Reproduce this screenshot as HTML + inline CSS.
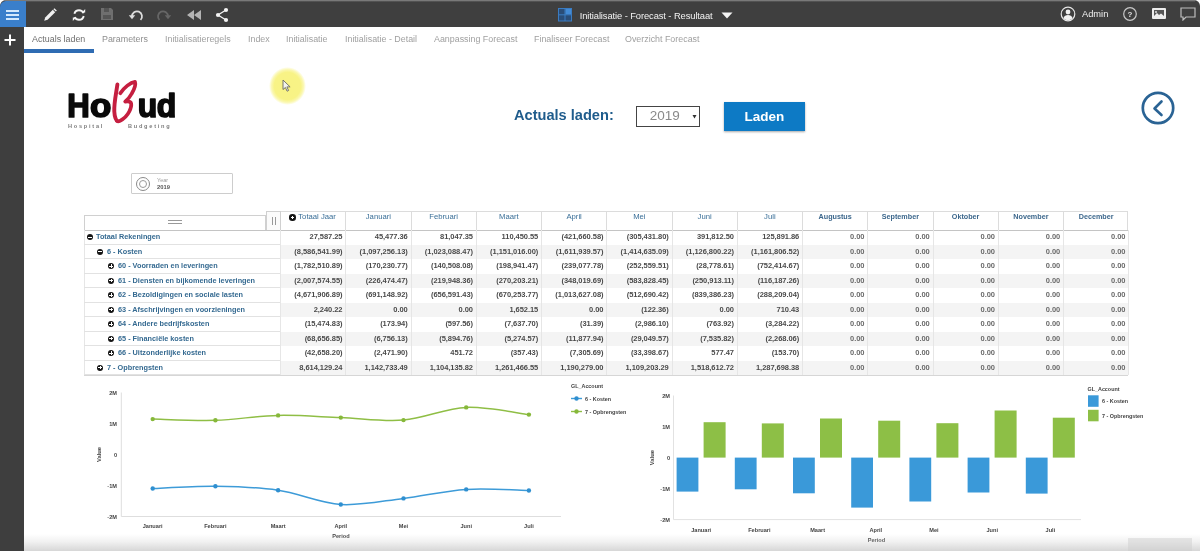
<!DOCTYPE html>
<html>
<head>
<meta charset="utf-8">
<style>
*{box-sizing:border-box;margin:0;padding:0}
html,body{width:1200px;height:551px;overflow:hidden;background:#fff;font-family:"Liberation Sans",sans-serif;}
#root{position:relative;width:1200px;height:551px;overflow:hidden;background:#fff;filter:blur(0.6px);}
.abs{position:absolute}
#topbar{left:0;top:0;width:1200px;height:27px;background:#3f3f3f;border-top-right-radius:6px;border-top-left-radius:6px;}
#topline{left:5px;top:0;width:1190px;height:2px;background:linear-gradient(#8c8c8c,#3f3f3f);}
#side{left:0;top:27px;width:24px;height:524px;background:#3e3e3e;}
#burger{left:0;top:0.7px;width:26.3px;height:26.3px;background:#3a7fcb;border-top-left-radius:6px;}
#burger i{position:absolute;left:6px;width:13px;height:2.3px;background:#d4e9fc;}
.tab{position:absolute;top:34px;font-size:8.9px;color:#8e8e8e;white-space:nowrap;line-height:10px;}
#tabline{left:24px;top:49.400px;width:70px;height:4px;background:#2f6cb3;}
.ico{position:absolute}
#title{left:579.700px;top:9.500px;font-size:9.400px;color:#f2f2f2;white-space:nowrap;line-height:12px;letter-spacing:-0.1px}
#admin{left:1082px;top:8px;font-size:9.3px;color:#f0f0f0;line-height:12px;}
</style>
</head>
<body>
<div id="root">
<!-- TOPBAR -->
<div id="topbar" class="abs"></div>
<div id="topline" class="abs"></div>
<div id="side" class="abs"></div>
<div id="burger" class="abs"><i style="top:9px"></i><i style="top:13.200px"></i><i style="top:17.300px"></i></div>
<svg class="abs" style="left:4.400px;top:33.700px" width="12" height="12" viewBox="0 0 12 12"><path d="M6 0.500v11M0.500 6h11" stroke="#fff" stroke-width="2"/></svg>

<!-- toolbar icons -->
<svg class="abs" style="left:42px;top:7px" width="16" height="16" viewBox="0 0 16 16"><path d="M2.2 13.8l1-3.4 7.6-7.6 2.4 2.4-7.6 7.6z" fill="#f0f0f0"/><path d="M11.4 2.2l1-1 2.4 2.4-1 1z" fill="#f0f0f0"/></svg>
<svg class="abs" style="left:70.700px;top:7px" width="16" height="16" viewBox="0 0 16 16"><circle cx="8" cy="8" r="4.800" fill="none" stroke="#f4f4f4" stroke-width="1.900" stroke-dasharray="11.500 3.580" stroke-dashoffset="-1"/><path d="M10.800 5.400l3.400 0 0-3.400z" fill="#f4f4f4"/><path d="M5.200 10.600l-3.400 0 0 3.400z" fill="#f4f4f4"/></svg>
<svg class="abs" style="left:100px;top:7.300px" width="14" height="14" viewBox="0 0 14 14"><path d="M1 1h10l2 2v10H1z" fill="#6f6f6f"/><rect x="4" y="1" width="5" height="4" fill="#555"/><rect x="3" y="8" width="8" height="4" fill="#555"/></svg>
<svg class="abs" style="left:128px;top:7px" width="16" height="16" viewBox="0 0 16 16"><path d="M4 9.5a5 5 0 1 1 8.5 3.4" fill="none" stroke="#dcdcdc" stroke-width="1.8"/><path d="M0.8 8.2h6.4l-3.2 4z" fill="#dcdcdc"/></svg>
<svg class="abs" style="left:156px;top:7px" width="16" height="16" viewBox="0 0 16 16"><path d="M12 9.5a5 5 0 1 0 -8.5 3.4" fill="none" stroke="#666" stroke-width="1.8"/><path d="M15.2 8.2h-6.4l3.2 4z" fill="#666"/></svg>
<svg class="abs" style="left:186px;top:9px" width="16" height="12" viewBox="0 0 16 12"><path d="M8 1v10L1 6zM15 1v10L8 6z" fill="#b4b4b4"/></svg>
<svg class="abs" style="left:214px;top:7px" width="16" height="16" viewBox="0 0 16 16"><path d="M12 3L4 8l8 5" fill="none" stroke="#f4f4f4" stroke-width="1.3"/><circle cx="12" cy="3" r="2.1" fill="#f4f4f4"/><circle cx="4" cy="8" r="2.1" fill="#f4f4f4"/><circle cx="12" cy="13" r="2.1" fill="#f4f4f4"/></svg>

<!-- title -->
<svg class="abs" style="left:558px;top:8px" width="14" height="14" viewBox="0 0 14 14"><rect x="0.500" y="0.500" width="13" height="12.500" fill="#2a4d78" stroke="#3a7cc2" stroke-width="1"/><path d="M7 0.500v12.500M0.500 6.800h13" stroke="#3a7cc2" stroke-width="1"/><rect x="7.500" y="1" width="5.500" height="5.300" fill="#438bd6"/></svg>
<div id="title" class="abs">Initialisatie - Forecast - Resultaat</div>
<svg class="abs" style="left:721px;top:12px" width="12" height="7" viewBox="0 0 12 7"><path d="M0.5 0.5h11L6 6.5z" fill="#f4f4f4"/></svg>

<!-- right icons -->
<svg class="abs" style="left:1060px;top:6px" width="16" height="16" viewBox="0 0 16 16"><circle cx="8" cy="8" r="6.8" fill="#3e3e3e" stroke="#e6e6e6" stroke-width="1.2"/><circle cx="8" cy="6" r="2.4" fill="#f0f0f0"/><path d="M3.4 12.3c0.6-2.6 2.6-3.3 4.6-3.3s4 0.7 4.6 3.3a6.6 6.6 0 0 1-9.2 0z" fill="#f0f0f0"/></svg>
<div id="admin" class="abs">Admin</div>
<svg class="abs" style="left:1122px;top:6px" width="16" height="16" viewBox="0 0 16 16"><circle cx="8" cy="8" r="6.3" fill="none" stroke="#c8c8c8" stroke-width="1.2"/><text x="8" y="11" font-size="8" font-weight="bold" fill="#e0e0e0" text-anchor="middle" font-family="Liberation Sans">?</text></svg>
<svg class="abs" style="left:1152px;top:8px" width="14" height="11" viewBox="0 0 14 11"><rect x="0" y="0" width="14" height="11" rx="1" fill="#ececec"/><rect x="2" y="2" width="10" height="6" fill="#555"/><path d="M2 8l3-3 2 2 2-1.5 3 2.500z" fill="#ececec"/><circle cx="4" cy="4" r="0.9" fill="#ececec"/></svg>
<svg class="abs" style="left:1180px;top:7px" width="16" height="14" viewBox="0 0 16 14"><path d="M1 1h14v9H6l-3 3v-3H1z" fill="none" stroke="#bdbdbd" stroke-width="1.2"/></svg>

<!-- TABS -->
<div class="tab" style="left:32px;color:#6e6e6e">Actuals laden</div>
<div class="tab" style="left:102px">Parameters</div>
<div class="tab" style="left:165px;color:#a0a0a0">Initialisatieregels</div>
<div class="tab" style="left:248px;color:#a0a0a0">Index</div>
<div class="tab" style="left:286px;color:#a0a0a0">Initialisatie</div>
<div class="tab" style="left:345px;color:#a0a0a0">Initialisatie - Detail</div>
<div class="tab" style="left:434px;color:#a0a0a0">Aanpassing Forecast</div>
<div class="tab" style="left:534px;color:#a0a0a0">Finaliseer Forecast</div>
<div class="tab" style="left:625px;color:#a0a0a0">Overzicht Forecast</div>
<div id="tabline" class="abs"></div>


<!-- LOGO -->
<svg class="abs" style="left:60px;top:70px" width="130" height="70" viewBox="60 70 130 70" font-family="Liberation Sans, sans-serif" font-weight="bold">
<g fill="#0a0a0a" stroke="#0a0a0a" stroke-width="1.7" stroke-linejoin="round" font-size="33.5">
<text transform="translate(67.37,116.7) scale(0.929,1)">H</text>
<text transform="translate(89.99,116.7) scale(1.042,1)">o</text>
<text transform="translate(137.67,116.7) scale(0.952,1)">u</text>
<text transform="translate(156.74,116.7) scale(0.954,1)">d</text>
</g>
<g transform="translate(105,75)" fill="none" stroke="#c51f40" stroke-linecap="round" stroke-linejoin="round">
<path d="M12.400 9.500C11.200 18 8.900 28 9.300 36.500C9.600 42 11 45.500 12.600 46" stroke-width="3.900"/>
<path d="M15.300 18.300C19 12.500 25.500 7.500 30 6.800C31 9.500 28.800 15 26.800 18.500C24.800 22.300 22.300 24.800 20.200 26.600C23 26.200 25.800 26.800 26.200 28.700C26.600 31 25.500 34 24.300 36.500C22.300 40.500 19 43.800 15 45.800C13.600 46.500 12.800 46.500 12 46" stroke-width="3.700"/>
</g>
<g font-size="5.600" fill="#7d7d7d" letter-spacing="1.750">
<text x="68" y="128">Hospital</text>
<text x="128" y="128">Budgeting</text>
</g>
</svg>

<!-- cursor highlight -->
<div class="abs" style="left:269px;top:66.500px;width:37px;height:38px;border-radius:50%;background:radial-gradient(closest-side,#f8f384 0%,#f8f386 72%,rgba(249,245,150,0.75) 86%,rgba(252,250,200,0) 100%)"></div>
<svg class="abs" style="left:282px;top:79px" width="10" height="14" viewBox="0 0 10 14"><path d="M1 1v9.500l2.400-2 1.700 3.700 1.500-0.700-1.700-3.600h3.200z" fill="#f4f4ee" stroke="#6a6a60" stroke-width="0.900"/></svg>

<!-- Actuals laden -->
<div class="abs" style="left:514px;top:106px;font-size:14.6px;font-weight:bold;color:#1f5c8c;line-height:18px;white-space:nowrap">Actuals laden:</div>
<div class="abs" style="left:635.500px;top:105.500px;width:64.500px;height:21px;border:1.400px solid #444;background:#fff"></div>
<div class="abs" style="left:649.700px;top:108px;font-size:13.500px;color:#8a8a8a;line-height:16px">2019</div>
<svg class="abs" style="left:692px;top:114px" width="5" height="5" viewBox="0 0 5 5"><path d="M0.500 1h4L2.500 4.500z" fill="#333"/></svg>
<div class="abs" style="left:724px;top:102px;width:81px;height:29px;background:#0d7ac5;box-shadow:0 1px 2px rgba(0,0,0,0.35);color:#fff;font-size:13.5px;font-weight:bold;text-align:center;line-height:29px">Laden</div>

<!-- back circle -->
<svg class="abs" style="left:1140px;top:90.300px" width="36" height="36" viewBox="0 0 36 36"><circle cx="18" cy="18" r="15.200" fill="#fff" stroke="#2a6394" stroke-width="2.700"/><path d="M21.500 11.500L14.500 18.500l7 6.500" fill="none" stroke="#2a6394" stroke-width="2.600" stroke-linecap="round" stroke-linejoin="round"/></svg>

<!-- Year box -->
<div class="abs" style="left:130.700px;top:173.300px;width:102px;height:20.500px;border:1px solid #cdcdcd;background:#fff;border-radius:1px"></div>
<svg class="abs" style="left:135px;top:176px" width="16" height="16" viewBox="0 0 16 16"><circle cx="8" cy="8" r="6.500" fill="none" stroke="#8a8a8a" stroke-width="1"/><circle cx="8" cy="8" r="3.500" fill="none" stroke="#9a9a9a" stroke-width="1"/></svg>
<div class="abs" style="left:157px;top:177px;font-size:5.5px;color:#999;line-height:7px">Year</div>
<div class="abs" style="left:157px;top:184px;font-size:5.8px;color:#555;font-weight:bold;line-height:7px">2019</div>

<style>
.tb{position:absolute;border:1px solid #d6d6d6}
.ch{position:absolute;top:211px;height:19px;font-size:7.7px;font-weight:normal;color:#3a6f98;text-align:center;line-height:10px;padding-top:1px;border-left:1px solid #dcdcdc;white-space:nowrap}
.rh{position:absolute;left:84px;width:196px;height:14.5px;border-bottom:1px solid #e2e2e2;font-size:7.3px;font-weight:bold;color:#356a91;line-height:13.5px;white-space:nowrap}
.rh i{position:absolute;top:4px;width:6.4px;height:6.4px;border-radius:50%;background:#151515}
.rh i:before{content:"";position:absolute;left:1.4px;top:2.6px;width:3.6px;height:1.2px;background:#fff}
.rh i.plus:after{content:"";position:absolute;left:2.6px;top:1.4px;width:1.2px;height:3.6px;background:#fff}
.c{position:absolute;height:14.5px;font-size:7.5px;font-weight:bold;color:#4a4a4a;text-align:right;line-height:13.5px;padding-right:2.8px;white-space:nowrap;letter-spacing:-0.05px}
.vl{position:absolute;top:230px;width:1px;height:145px;background:#e6e6e6}
</style>
<div class="abs" style="left:280px;top:211px;width:848px;height:19px;background:#fff;border-top:1px solid #dcdcdc;border-right:1px solid #dcdcdc"></div>
<div class="abs" style="left:280px;top:244.5px;width:848px;height:14.5px;background:#f4f4f4"></div>
<div class="abs" style="left:280px;top:273.5px;width:848px;height:14.5px;background:#f4f4f4"></div>
<div class="abs" style="left:280px;top:302.5px;width:848px;height:14.5px;background:#f4f4f4"></div>
<div class="abs" style="left:280px;top:331.5px;width:848px;height:14.5px;background:#f4f4f4"></div>
<div class="abs" style="left:280px;top:360.5px;width:848px;height:14.5px;background:#f4f4f4"></div>
<div class="abs" style="left:84px;top:215px;width:182px;height:16px;border:1px solid #d0d0d0;background:#fff"></div>
<div class="abs" style="left:266px;top:211px;width:15px;height:20px;border:1px solid #d0d0d0;background:#fbfbfb"></div>
<div class="abs" style="left:168px;top:220px;width:14px;height:1.2px;background:#999"></div><div class="abs" style="left:168px;top:223px;width:14px;height:1.2px;background:#999"></div>
<div class="abs" style="left:271.500px;top:217px;width:1px;height:8px;background:#999"></div><div class="abs" style="left:274.500px;top:217px;width:1px;height:8px;background:#999"></div>
<div class="abs" style="left:84px;top:230px;width:1044px;height:1.3px;background:#c4c4c4"></div>
<div class="ch" style="left:280.00px;width:65.25px;border-left:none"><span style="display:inline-block;width:6.4px;height:6.4px;border-radius:50%;background:#151515;position:relative;top:1.5px;margin-right:2.5px"><b style="position:absolute;left:1.4px;top:2.6px;width:3.6px;height:1.2px;background:#fff"></b><b style="position:absolute;left:2.6px;top:1.4px;width:1.2px;height:3.6px;background:#fff"></b></span>Totaal Jaar</div>
<div class="ch" style="left:345.25px;width:65.25px">Januari</div>
<div class="ch" style="left:410.50px;width:65.25px">Februari</div>
<div class="ch" style="left:475.75px;width:65.25px">Maart</div>
<div class="ch" style="left:541.00px;width:65.25px">April</div>
<div class="ch" style="left:606.25px;width:65.25px">Mei</div>
<div class="ch" style="left:671.50px;width:65.25px">Juni</div>
<div class="ch" style="left:736.75px;width:65.25px">Juli</div>
<div class="ch" style="left:802.00px;width:65.25px;font-weight:bold;font-size:7.200px;color:#3c678c">Augustus</div>
<div class="ch" style="left:867.25px;width:65.25px;font-weight:bold;font-size:7.200px;color:#3c678c">September</div>
<div class="ch" style="left:932.50px;width:65.25px;font-weight:bold;font-size:7.200px;color:#3c678c">Oktober</div>
<div class="ch" style="left:997.75px;width:65.25px;font-weight:bold;font-size:7.200px;color:#3c678c">November</div>
<div class="ch" style="left:1063.00px;width:65.25px;font-weight:bold;font-size:7.200px;color:#3c678c">December</div>
<div class="vl" style="left:280.00px"></div>
<div class="vl" style="left:345.25px"></div>
<div class="vl" style="left:410.50px"></div>
<div class="vl" style="left:475.75px"></div>
<div class="vl" style="left:541.00px"></div>
<div class="vl" style="left:606.25px"></div>
<div class="vl" style="left:671.50px"></div>
<div class="vl" style="left:736.75px"></div>
<div class="vl" style="left:802.00px"></div>
<div class="vl" style="left:867.25px"></div>
<div class="vl" style="left:932.50px"></div>
<div class="vl" style="left:997.75px"></div>
<div class="vl" style="left:1063.00px"></div>
<div class="vl" style="left:1128.25px"></div>
<div class="vl" style="left:84px"></div>
<div class="rh" style="top:230.0px"><i class="minus" style="left:3px"></i><span style="position:absolute;left:12px">Totaal Rekeningen</span></div>
<div class="c" style="left:280.00px;top:230.0px;width:65.25px">27,587.25</div>
<div class="c" style="left:345.25px;top:230.0px;width:65.25px">45,477.36</div>
<div class="c" style="left:410.50px;top:230.0px;width:65.25px">81,047.35</div>
<div class="c" style="left:475.75px;top:230.0px;width:65.25px">110,450.55</div>
<div class="c" style="left:541.00px;top:230.0px;width:65.25px">(421,660.58)</div>
<div class="c" style="left:606.25px;top:230.0px;width:65.25px">(305,431.80)</div>
<div class="c" style="left:671.50px;top:230.0px;width:65.25px">391,812.50</div>
<div class="c" style="left:736.75px;top:230.0px;width:65.25px">125,891.86</div>
<div class="c" style="left:802.00px;top:230.0px;width:65.25px;color:#6a6a6a">0.00</div>
<div class="c" style="left:867.25px;top:230.0px;width:65.25px;color:#6a6a6a">0.00</div>
<div class="c" style="left:932.50px;top:230.0px;width:65.25px;color:#6a6a6a">0.00</div>
<div class="c" style="left:997.75px;top:230.0px;width:65.25px;color:#6a6a6a">0.00</div>
<div class="c" style="left:1063.00px;top:230.0px;width:65.25px;color:#6a6a6a">0.00</div>
<div class="rh" style="top:244.5px"><i class="minus" style="left:13px"></i><span style="position:absolute;left:23px">6 - Kosten</span></div>
<div class="c" style="left:280.00px;top:244.5px;width:65.25px">(8,586,541.99)</div>
<div class="c" style="left:345.25px;top:244.5px;width:65.25px">(1,097,256.13)</div>
<div class="c" style="left:410.50px;top:244.5px;width:65.25px">(1,023,088.47)</div>
<div class="c" style="left:475.75px;top:244.5px;width:65.25px">(1,151,016.00)</div>
<div class="c" style="left:541.00px;top:244.5px;width:65.25px">(1,611,939.57)</div>
<div class="c" style="left:606.25px;top:244.5px;width:65.25px">(1,414,635.09)</div>
<div class="c" style="left:671.50px;top:244.5px;width:65.25px">(1,126,800.22)</div>
<div class="c" style="left:736.75px;top:244.5px;width:65.25px">(1,161,806.52)</div>
<div class="c" style="left:802.00px;top:244.5px;width:65.25px;color:#6a6a6a">0.00</div>
<div class="c" style="left:867.25px;top:244.5px;width:65.25px;color:#6a6a6a">0.00</div>
<div class="c" style="left:932.50px;top:244.5px;width:65.25px;color:#6a6a6a">0.00</div>
<div class="c" style="left:997.75px;top:244.5px;width:65.25px;color:#6a6a6a">0.00</div>
<div class="c" style="left:1063.00px;top:244.5px;width:65.25px;color:#6a6a6a">0.00</div>
<div class="rh" style="top:259.0px"><i class="plus" style="left:24px"></i><span style="position:absolute;left:34px">60 - Voorraden en leveringen</span></div>
<div class="c" style="left:280.00px;top:259.0px;width:65.25px">(1,782,510.89)</div>
<div class="c" style="left:345.25px;top:259.0px;width:65.25px">(170,230.77)</div>
<div class="c" style="left:410.50px;top:259.0px;width:65.25px">(140,508.08)</div>
<div class="c" style="left:475.75px;top:259.0px;width:65.25px">(198,941.47)</div>
<div class="c" style="left:541.00px;top:259.0px;width:65.25px">(239,077.78)</div>
<div class="c" style="left:606.25px;top:259.0px;width:65.25px">(252,559.51)</div>
<div class="c" style="left:671.50px;top:259.0px;width:65.25px">(28,778.61)</div>
<div class="c" style="left:736.75px;top:259.0px;width:65.25px">(752,414.67)</div>
<div class="c" style="left:802.00px;top:259.0px;width:65.25px;color:#6a6a6a">0.00</div>
<div class="c" style="left:867.25px;top:259.0px;width:65.25px;color:#6a6a6a">0.00</div>
<div class="c" style="left:932.50px;top:259.0px;width:65.25px;color:#6a6a6a">0.00</div>
<div class="c" style="left:997.75px;top:259.0px;width:65.25px;color:#6a6a6a">0.00</div>
<div class="c" style="left:1063.00px;top:259.0px;width:65.25px;color:#6a6a6a">0.00</div>
<div class="rh" style="top:273.5px"><i class="plus" style="left:24px"></i><span style="position:absolute;left:34px">61 - Diensten en bijkomende leveringen</span></div>
<div class="c" style="left:280.00px;top:273.5px;width:65.25px">(2,007,574.55)</div>
<div class="c" style="left:345.25px;top:273.5px;width:65.25px">(226,474.47)</div>
<div class="c" style="left:410.50px;top:273.5px;width:65.25px">(219,948.36)</div>
<div class="c" style="left:475.75px;top:273.5px;width:65.25px">(270,203.21)</div>
<div class="c" style="left:541.00px;top:273.5px;width:65.25px">(348,019.69)</div>
<div class="c" style="left:606.25px;top:273.5px;width:65.25px">(583,828.45)</div>
<div class="c" style="left:671.50px;top:273.5px;width:65.25px">(250,913.11)</div>
<div class="c" style="left:736.75px;top:273.5px;width:65.25px">(116,187.26)</div>
<div class="c" style="left:802.00px;top:273.5px;width:65.25px;color:#6a6a6a">0.00</div>
<div class="c" style="left:867.25px;top:273.5px;width:65.25px;color:#6a6a6a">0.00</div>
<div class="c" style="left:932.50px;top:273.5px;width:65.25px;color:#6a6a6a">0.00</div>
<div class="c" style="left:997.75px;top:273.5px;width:65.25px;color:#6a6a6a">0.00</div>
<div class="c" style="left:1063.00px;top:273.5px;width:65.25px;color:#6a6a6a">0.00</div>
<div class="rh" style="top:288.0px"><i class="plus" style="left:24px"></i><span style="position:absolute;left:34px">62 - Bezoldigingen en sociale lasten</span></div>
<div class="c" style="left:280.00px;top:288.0px;width:65.25px">(4,671,906.89)</div>
<div class="c" style="left:345.25px;top:288.0px;width:65.25px">(691,148.92)</div>
<div class="c" style="left:410.50px;top:288.0px;width:65.25px">(656,591.43)</div>
<div class="c" style="left:475.75px;top:288.0px;width:65.25px">(670,253.77)</div>
<div class="c" style="left:541.00px;top:288.0px;width:65.25px">(1,013,627.08)</div>
<div class="c" style="left:606.25px;top:288.0px;width:65.25px">(512,690.42)</div>
<div class="c" style="left:671.50px;top:288.0px;width:65.25px">(839,386.23)</div>
<div class="c" style="left:736.75px;top:288.0px;width:65.25px">(288,209.04)</div>
<div class="c" style="left:802.00px;top:288.0px;width:65.25px;color:#6a6a6a">0.00</div>
<div class="c" style="left:867.25px;top:288.0px;width:65.25px;color:#6a6a6a">0.00</div>
<div class="c" style="left:932.50px;top:288.0px;width:65.25px;color:#6a6a6a">0.00</div>
<div class="c" style="left:997.75px;top:288.0px;width:65.25px;color:#6a6a6a">0.00</div>
<div class="c" style="left:1063.00px;top:288.0px;width:65.25px;color:#6a6a6a">0.00</div>
<div class="rh" style="top:302.5px"><i class="plus" style="left:24px"></i><span style="position:absolute;left:34px">63 - Afschrijvingen en voorzieningen</span></div>
<div class="c" style="left:280.00px;top:302.5px;width:65.25px">2,240.22</div>
<div class="c" style="left:345.25px;top:302.5px;width:65.25px">0.00</div>
<div class="c" style="left:410.50px;top:302.5px;width:65.25px">0.00</div>
<div class="c" style="left:475.75px;top:302.5px;width:65.25px">1,652.15</div>
<div class="c" style="left:541.00px;top:302.5px;width:65.25px">0.00</div>
<div class="c" style="left:606.25px;top:302.5px;width:65.25px">(122.36)</div>
<div class="c" style="left:671.50px;top:302.5px;width:65.25px">0.00</div>
<div class="c" style="left:736.75px;top:302.5px;width:65.25px">710.43</div>
<div class="c" style="left:802.00px;top:302.5px;width:65.25px;color:#6a6a6a">0.00</div>
<div class="c" style="left:867.25px;top:302.5px;width:65.25px;color:#6a6a6a">0.00</div>
<div class="c" style="left:932.50px;top:302.5px;width:65.25px;color:#6a6a6a">0.00</div>
<div class="c" style="left:997.75px;top:302.5px;width:65.25px;color:#6a6a6a">0.00</div>
<div class="c" style="left:1063.00px;top:302.5px;width:65.25px;color:#6a6a6a">0.00</div>
<div class="rh" style="top:317.0px"><i class="plus" style="left:24px"></i><span style="position:absolute;left:34px">64 - Andere bedrijfskosten</span></div>
<div class="c" style="left:280.00px;top:317.0px;width:65.25px">(15,474.83)</div>
<div class="c" style="left:345.25px;top:317.0px;width:65.25px">(173.94)</div>
<div class="c" style="left:410.50px;top:317.0px;width:65.25px">(597.56)</div>
<div class="c" style="left:475.75px;top:317.0px;width:65.25px">(7,637.70)</div>
<div class="c" style="left:541.00px;top:317.0px;width:65.25px">(31.39)</div>
<div class="c" style="left:606.25px;top:317.0px;width:65.25px">(2,986.10)</div>
<div class="c" style="left:671.50px;top:317.0px;width:65.25px">(763.92)</div>
<div class="c" style="left:736.75px;top:317.0px;width:65.25px">(3,284.22)</div>
<div class="c" style="left:802.00px;top:317.0px;width:65.25px;color:#6a6a6a">0.00</div>
<div class="c" style="left:867.25px;top:317.0px;width:65.25px;color:#6a6a6a">0.00</div>
<div class="c" style="left:932.50px;top:317.0px;width:65.25px;color:#6a6a6a">0.00</div>
<div class="c" style="left:997.75px;top:317.0px;width:65.25px;color:#6a6a6a">0.00</div>
<div class="c" style="left:1063.00px;top:317.0px;width:65.25px;color:#6a6a6a">0.00</div>
<div class="rh" style="top:331.5px"><i class="plus" style="left:24px"></i><span style="position:absolute;left:34px">65 - Financiële kosten</span></div>
<div class="c" style="left:280.00px;top:331.5px;width:65.25px">(68,656.85)</div>
<div class="c" style="left:345.25px;top:331.5px;width:65.25px">(6,756.13)</div>
<div class="c" style="left:410.50px;top:331.5px;width:65.25px">(5,894.76)</div>
<div class="c" style="left:475.75px;top:331.5px;width:65.25px">(5,274.57)</div>
<div class="c" style="left:541.00px;top:331.5px;width:65.25px">(11,877.94)</div>
<div class="c" style="left:606.25px;top:331.5px;width:65.25px">(29,049.57)</div>
<div class="c" style="left:671.50px;top:331.5px;width:65.25px">(7,535.82)</div>
<div class="c" style="left:736.75px;top:331.5px;width:65.25px">(2,268.06)</div>
<div class="c" style="left:802.00px;top:331.5px;width:65.25px;color:#6a6a6a">0.00</div>
<div class="c" style="left:867.25px;top:331.5px;width:65.25px;color:#6a6a6a">0.00</div>
<div class="c" style="left:932.50px;top:331.5px;width:65.25px;color:#6a6a6a">0.00</div>
<div class="c" style="left:997.75px;top:331.5px;width:65.25px;color:#6a6a6a">0.00</div>
<div class="c" style="left:1063.00px;top:331.5px;width:65.25px;color:#6a6a6a">0.00</div>
<div class="rh" style="top:346.0px"><i class="plus" style="left:24px"></i><span style="position:absolute;left:34px">66 - Uitzonderlijke kosten</span></div>
<div class="c" style="left:280.00px;top:346.0px;width:65.25px">(42,658.20)</div>
<div class="c" style="left:345.25px;top:346.0px;width:65.25px">(2,471.90)</div>
<div class="c" style="left:410.50px;top:346.0px;width:65.25px">451.72</div>
<div class="c" style="left:475.75px;top:346.0px;width:65.25px">(357.43)</div>
<div class="c" style="left:541.00px;top:346.0px;width:65.25px">(7,305.69)</div>
<div class="c" style="left:606.25px;top:346.0px;width:65.25px">(33,398.67)</div>
<div class="c" style="left:671.50px;top:346.0px;width:65.25px">577.47</div>
<div class="c" style="left:736.75px;top:346.0px;width:65.25px">(153.70)</div>
<div class="c" style="left:802.00px;top:346.0px;width:65.25px;color:#6a6a6a">0.00</div>
<div class="c" style="left:867.25px;top:346.0px;width:65.25px;color:#6a6a6a">0.00</div>
<div class="c" style="left:932.50px;top:346.0px;width:65.25px;color:#6a6a6a">0.00</div>
<div class="c" style="left:997.75px;top:346.0px;width:65.25px;color:#6a6a6a">0.00</div>
<div class="c" style="left:1063.00px;top:346.0px;width:65.25px;color:#6a6a6a">0.00</div>
<div class="rh" style="top:360.5px"><i class="plus" style="left:13px"></i><span style="position:absolute;left:23px">7 - Opbrengsten</span></div>
<div class="c" style="left:280.00px;top:360.5px;width:65.25px">8,614,129.24</div>
<div class="c" style="left:345.25px;top:360.5px;width:65.25px">1,142,733.49</div>
<div class="c" style="left:410.50px;top:360.5px;width:65.25px">1,104,135.82</div>
<div class="c" style="left:475.75px;top:360.5px;width:65.25px">1,261,466.55</div>
<div class="c" style="left:541.00px;top:360.5px;width:65.25px">1,190,279.00</div>
<div class="c" style="left:606.25px;top:360.5px;width:65.25px">1,109,203.29</div>
<div class="c" style="left:671.50px;top:360.5px;width:65.25px">1,518,612.72</div>
<div class="c" style="left:736.75px;top:360.5px;width:65.25px">1,287,698.38</div>
<div class="c" style="left:802.00px;top:360.5px;width:65.25px;color:#6a6a6a">0.00</div>
<div class="c" style="left:867.25px;top:360.5px;width:65.25px;color:#6a6a6a">0.00</div>
<div class="c" style="left:932.50px;top:360.5px;width:65.25px;color:#6a6a6a">0.00</div>
<div class="c" style="left:997.75px;top:360.5px;width:65.25px;color:#6a6a6a">0.00</div>
<div class="c" style="left:1063.00px;top:360.5px;width:65.25px;color:#6a6a6a">0.00</div>
<div class="abs" style="left:84px;top:375px;width:1044px;height:1px;background:#d6d6d6"></div>
<svg class="abs" style="left:0;top:380px" width="1200" height="171" viewBox="0 380 1200 171" font-family="Liberation Sans, sans-serif">
<path d="M121.3 392.5V516.5H561" fill="none" stroke="#dedede" stroke-width="1"/>
<text x="117" y="394.5" font-size="5.6" fill="#444" text-anchor="end" font-weight="bold">2M</text>
<text x="117" y="425.5" font-size="5.6" fill="#444" text-anchor="end" font-weight="bold">1M</text>
<text x="117" y="456.5" font-size="5.6" fill="#444" text-anchor="end" font-weight="bold">0</text>
<text x="117" y="487.5" font-size="5.6" fill="#444" text-anchor="end" font-weight="bold">-1M</text>
<text x="117" y="518.5" font-size="5.6" fill="#444" text-anchor="end" font-weight="bold">-2M</text>
<text transform="translate(101,454.5) rotate(-90)" font-size="5.8" fill="#444" text-anchor="middle" font-weight="bold">Value</text>
<path d="M152.7 419.1C163.1 419.3 194.5 420.9 215.4 420.3C236.3 419.7 257.2 415.8 278.1 415.4C298.9 414.9 319.9 416.8 340.8 417.6C361.6 418.4 382.6 421.8 403.5 420.1C424.4 418.4 445.3 408.3 466.2 407.4C487.1 406.5 518.4 413.4 528.9 414.6" fill="none" stroke="#8fbe45" stroke-width="1.5"/>
<path d="M152.7 488.5C163.1 488.1 194.5 485.9 215.4 486.2C236.3 486.5 257.2 487.1 278.1 490.2C298.9 493.2 319.9 503.1 340.8 504.5C361.6 505.8 382.6 500.9 403.5 498.4C424.4 495.8 445.3 490.7 466.2 489.4C487.1 488.1 518.4 490.3 528.9 490.5" fill="none" stroke="#3d9bd8" stroke-width="1.5"/>
<circle cx="152.7" cy="419.1" r="2.2" fill="#86b83a"/>
<circle cx="215.4" cy="420.3" r="2.2" fill="#86b83a"/>
<circle cx="278.1" cy="415.4" r="2.2" fill="#86b83a"/>
<circle cx="340.8" cy="417.6" r="2.2" fill="#86b83a"/>
<circle cx="403.5" cy="420.1" r="2.2" fill="#86b83a"/>
<circle cx="466.2" cy="407.4" r="2.2" fill="#86b83a"/>
<circle cx="528.9" cy="414.6" r="2.2" fill="#86b83a"/>
<circle cx="152.7" cy="488.5" r="2.2" fill="#2f8fd0"/>
<circle cx="215.4" cy="486.2" r="2.2" fill="#2f8fd0"/>
<circle cx="278.1" cy="490.2" r="2.2" fill="#2f8fd0"/>
<circle cx="340.8" cy="504.5" r="2.2" fill="#2f8fd0"/>
<circle cx="403.5" cy="498.4" r="2.2" fill="#2f8fd0"/>
<circle cx="466.2" cy="489.4" r="2.2" fill="#2f8fd0"/>
<circle cx="528.9" cy="490.5" r="2.2" fill="#2f8fd0"/>
<text x="152.7" y="528" font-size="5.6" fill="#444" text-anchor="middle" font-weight="bold">Januari</text>
<text x="215.4" y="528" font-size="5.6" fill="#444" text-anchor="middle" font-weight="bold">Februari</text>
<text x="278.1" y="528" font-size="5.6" fill="#444" text-anchor="middle" font-weight="bold">Maart</text>
<text x="340.8" y="528" font-size="5.6" fill="#444" text-anchor="middle" font-weight="bold">April</text>
<text x="403.5" y="528" font-size="5.6" fill="#444" text-anchor="middle" font-weight="bold">Mei</text>
<text x="466.2" y="528" font-size="5.6" fill="#444" text-anchor="middle" font-weight="bold">Juni</text>
<text x="528.9" y="528" font-size="5.6" fill="#444" text-anchor="middle" font-weight="bold">Juli</text>
<text x="341" y="538" font-size="5.6" fill="#444" text-anchor="middle" font-weight="bold">Period</text>
<text x="571" y="388" font-size="5.4" fill="#444" font-weight="bold">GL_Account</text>
<path d="M571 398.5h11" stroke="#3d9bd8" stroke-width="1.4"/><circle cx="576.5" cy="398.5" r="2.2" fill="#2f8fd0"/>
<text x="585" y="400.500" font-size="5.4" fill="#444" font-weight="bold">6 - Kosten</text>
<path d="M571 411.5h11" stroke="#8fbe45" stroke-width="1.4"/><circle cx="576.5" cy="411.5" r="2.2" fill="#86b83a"/>
<text x="585" y="413.500" font-size="5.4" fill="#444" font-weight="bold">7 - Opbrengsten</text>
<path d="M673.5 395.5V519.6H1081" fill="none" stroke="#e2e2e2" stroke-width="1"/>
<text x="670" y="397.6" font-size="5.6" fill="#444" text-anchor="end" font-weight="bold">2M</text>
<text x="670" y="428.6" font-size="5.6" fill="#444" text-anchor="end" font-weight="bold">1M</text>
<text x="670" y="459.6" font-size="5.6" fill="#444" text-anchor="end" font-weight="bold">0</text>
<text x="670" y="490.6" font-size="5.6" fill="#444" text-anchor="end" font-weight="bold">-1M</text>
<text x="670" y="521.6" font-size="5.6" fill="#444" text-anchor="end" font-weight="bold">-2M</text>
<text transform="translate(653.500,457.6) rotate(-90)" font-size="5.8" fill="#444" text-anchor="middle" font-weight="bold">Value</text>
<rect x="676.6" y="457.6" width="21.8" height="34.0" fill="#3a99d9"/>
<rect x="703.6" y="422.2" width="22" height="35.4" fill="#8dbf46"/>
<text x="701.2" y="531.500" font-size="5.6" fill="#444" text-anchor="middle" font-weight="bold">Januari</text>
<rect x="734.8" y="457.6" width="21.8" height="31.7" fill="#3a99d9"/>
<rect x="761.8" y="423.4" width="22" height="34.2" fill="#8dbf46"/>
<text x="759.4" y="531.500" font-size="5.6" fill="#444" text-anchor="middle" font-weight="bold">Februari</text>
<rect x="793.0" y="457.6" width="21.8" height="35.7" fill="#3a99d9"/>
<rect x="820.0" y="418.5" width="22" height="39.1" fill="#8dbf46"/>
<text x="817.6" y="531.500" font-size="5.6" fill="#444" text-anchor="middle" font-weight="bold">Maart</text>
<rect x="851.2" y="457.6" width="21.8" height="50.0" fill="#3a99d9"/>
<rect x="878.2" y="420.7" width="22" height="36.9" fill="#8dbf46"/>
<text x="875.8" y="531.500" font-size="5.6" fill="#444" text-anchor="middle" font-weight="bold">April</text>
<rect x="909.4" y="457.6" width="21.8" height="43.9" fill="#3a99d9"/>
<rect x="936.4" y="423.2" width="22" height="34.4" fill="#8dbf46"/>
<text x="934.0" y="531.500" font-size="5.6" fill="#444" text-anchor="middle" font-weight="bold">Mei</text>
<rect x="967.6" y="457.6" width="21.8" height="34.9" fill="#3a99d9"/>
<rect x="994.6" y="410.5" width="22" height="47.1" fill="#8dbf46"/>
<text x="992.2" y="531.500" font-size="5.6" fill="#444" text-anchor="middle" font-weight="bold">Juni</text>
<rect x="1025.8" y="457.6" width="21.8" height="36.0" fill="#3a99d9"/>
<rect x="1052.8" y="417.7" width="22" height="39.9" fill="#8dbf46"/>
<text x="1050.4" y="531.500" font-size="5.6" fill="#444" text-anchor="middle" font-weight="bold">Juli</text>
<text x="876.400" y="542" font-size="5.6" fill="#444" text-anchor="middle" font-weight="bold">Period</text>
<text x="1087.500" y="390.500" font-size="5.4" fill="#444" font-weight="bold">GL_Account</text>
<rect x="1088" y="395.300" width="10.600" height="11.500" fill="#3a99d9"/>
<text x="1102" y="403" font-size="5.4" fill="#444" font-weight="bold">6 - Kosten</text>
<rect x="1088" y="409.800" width="10.600" height="11.500" fill="#8dbf46"/>
<text x="1102" y="417.500" font-size="5.4" fill="#444" font-weight="bold">7 - Opbrengsten</text>
</svg>
<div class="abs" style="left:24px;top:534px;width:1176px;height:17px;background:linear-gradient(rgba(200,200,200,0),rgba(205,205,205,0.28) 45%,rgba(190,190,190,0.62))"></div>
<div class="abs" style="left:1128px;top:538px;width:64px;height:13px;background:rgba(205,205,205,0.45)"></div>

</div>
</body>
</html>
